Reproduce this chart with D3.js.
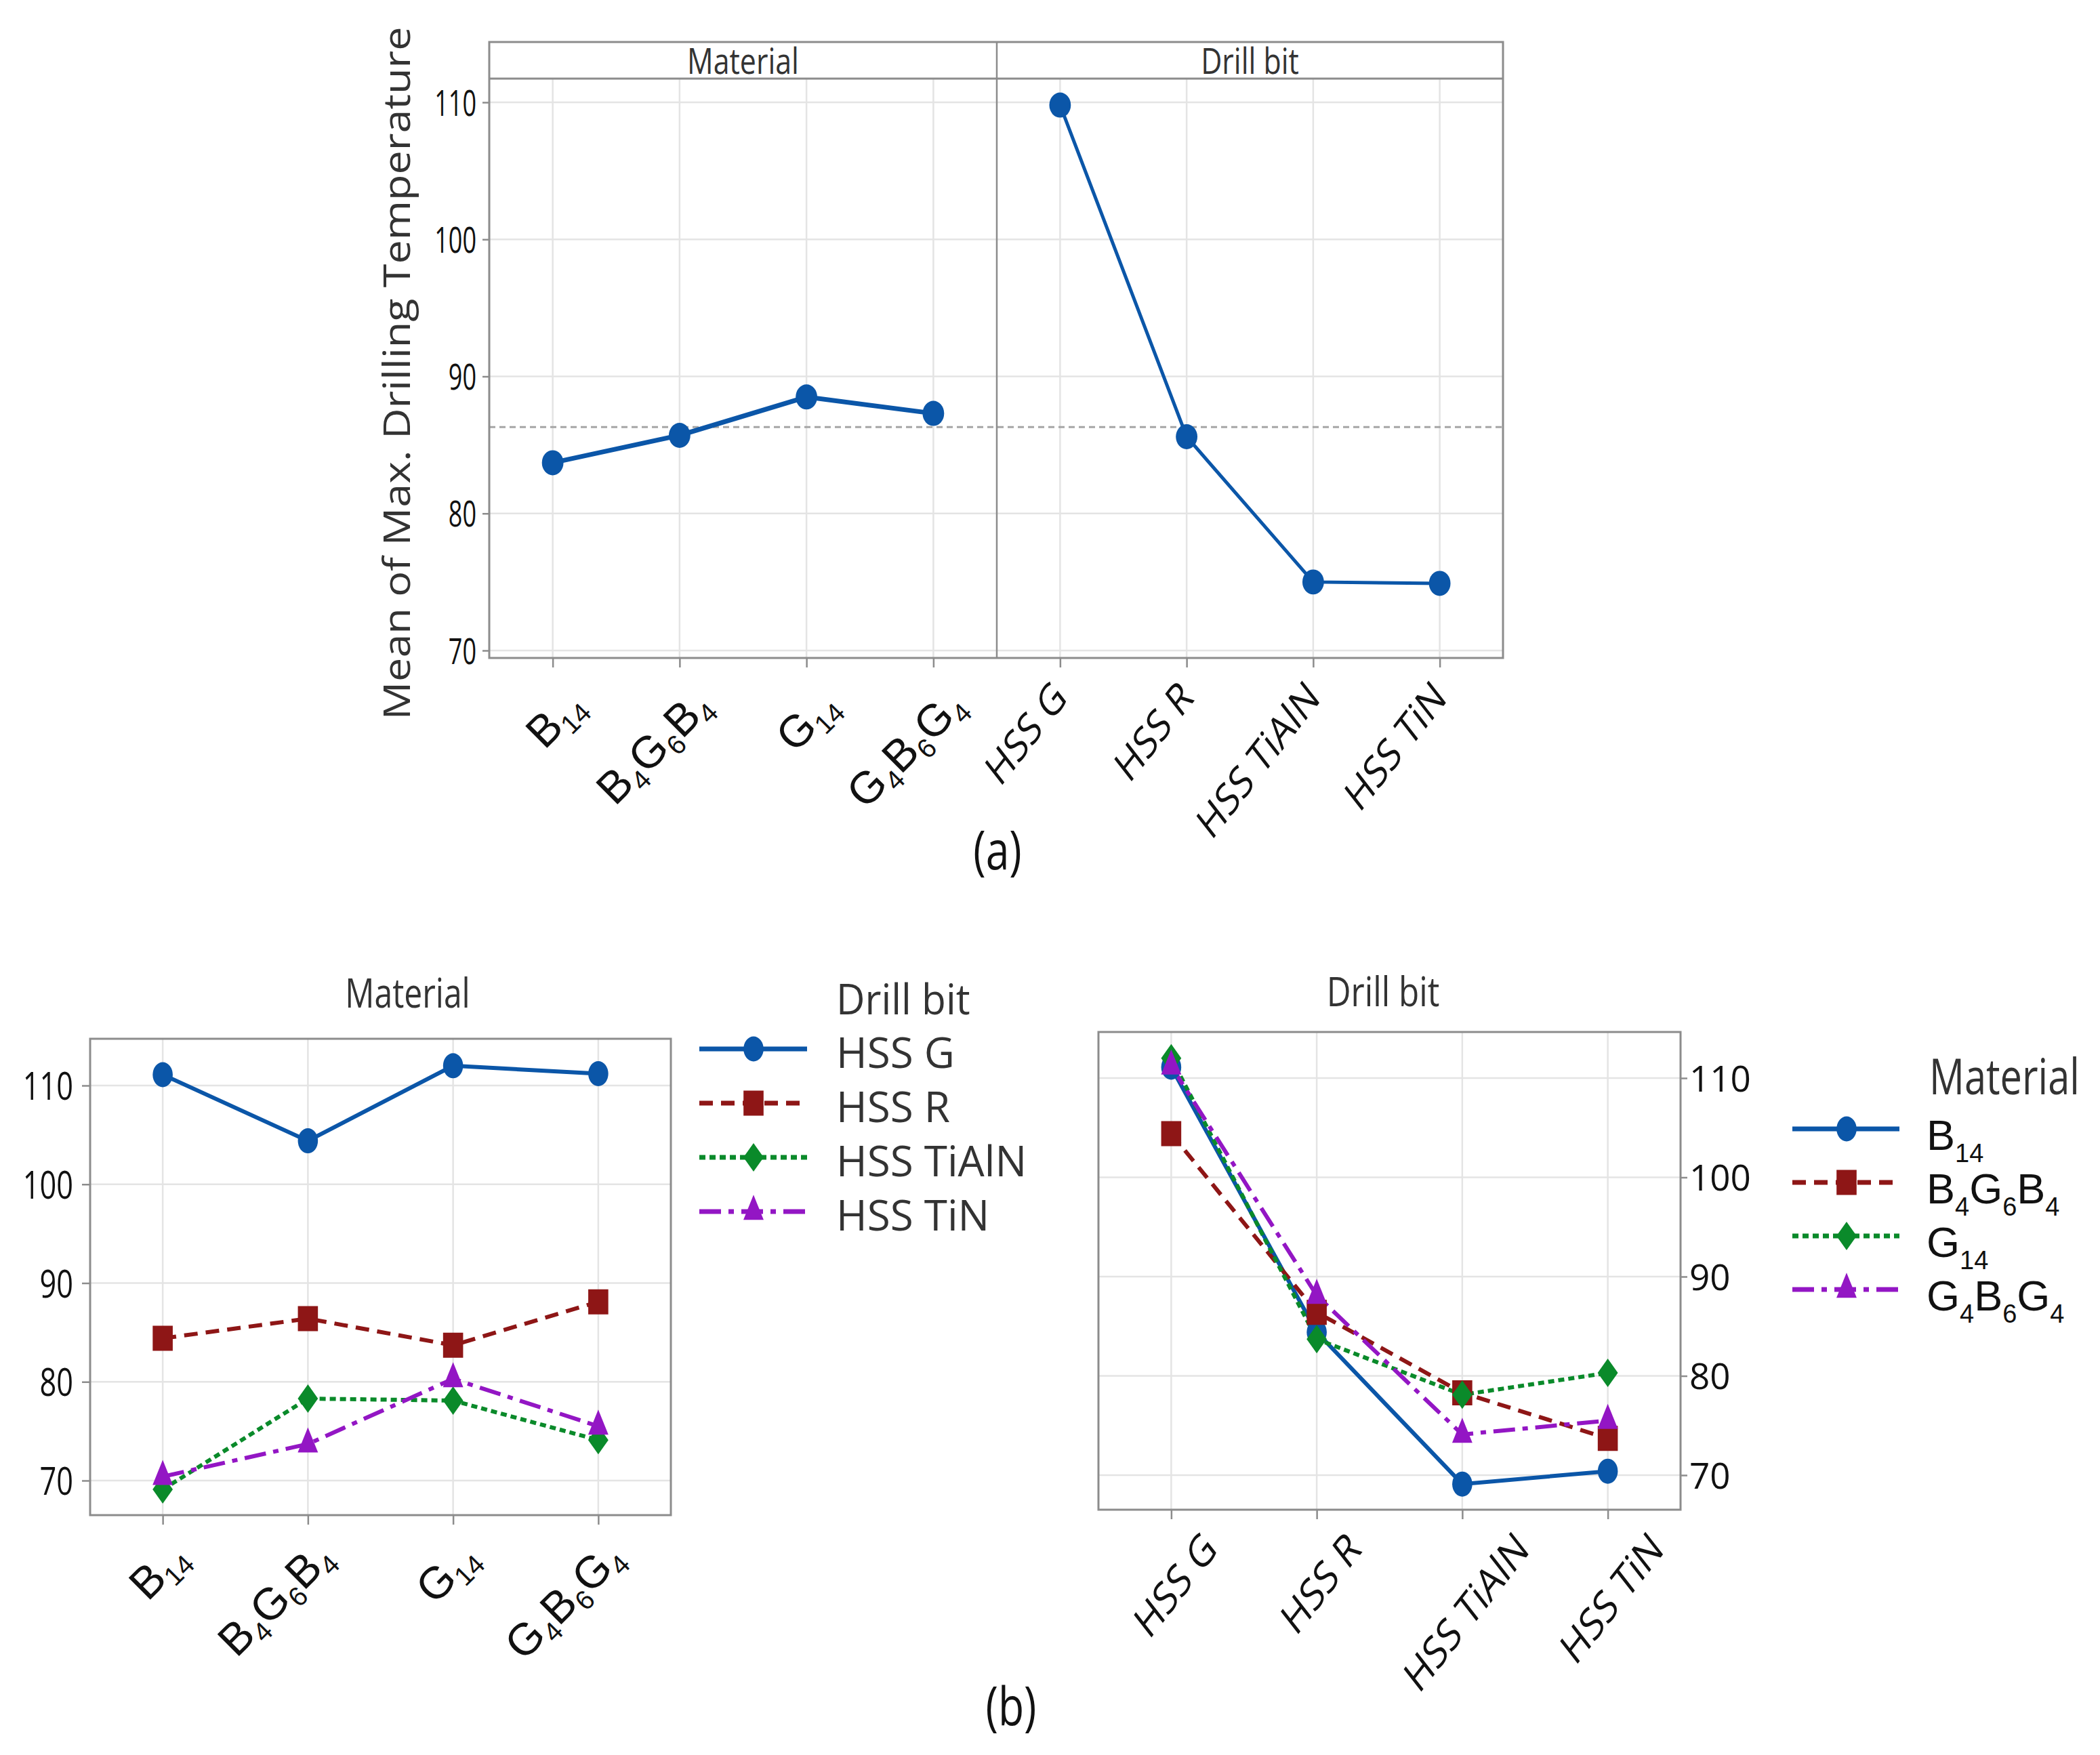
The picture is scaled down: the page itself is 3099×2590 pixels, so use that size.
<!DOCTYPE html>
<html>
<head>
<meta charset="utf-8">
<title>Drilling temperature</title>
<script src="https://cdn.jsdelivr.net/npm/d3@7"></script>
<style>
  body { margin: 0; background: #fff; }
  svg { display: block; }
</style>
</head>
<body>
<script>
// ---- data ----
const materials = ["B14", "B4G6B4", "G14", "G4B6G4"];
const drillBits = ["HSS G", "HSS R", "HSS TiAlN", "HSS TiN"];
const meanByMaterial = [83.7, 85.7, 88.5, 87.3];
const meanByDrill = [109.8, 85.6, 75.0, 74.9];
const grandMean = 86.3;
// interaction means, one array per drill bit, in material order
const hssG = [111.1, 104.4, 112.0, 111.2];
const hssR = [84.4, 86.4, 83.7, 88.1];
const hssTiAlN = [69.1, 78.3, 78.1, 74.1];
const hssTiN = [70.4, 73.7, 80.3, 75.5];
const yTicks = [70, 80, 90, 100, 110];

const byDrill = [hssG, hssR, hssTiAlN, hssTiN];
const byMaterial = materials.map((m, j) => byDrill.map(row => row[j]));

// ---- styles ----
const FONT = "'Open Sans', 'Noto Sans', sans-serif";
const ARIAL = "'Liberation Sans', Arial, sans-serif";
const colors = ["#0b56a8", "#8e1616", "#0a8a2a", "#9316c4"];
const dashes = [null, "20,12", "9,6", "32,11,8,11"];
const shapes = [d3.symbolCircle, d3.symbolSquare, d3.symbolDiamond2, d3.symbolTriangle];
const shapeSize = [1075, 1369, 1124, 790];
const shapeSx = [0.8, 0.8, 0.71, 0.7];
const FRAME = "#8c8c8c", GRID = "#e4e4e4";
const SHEAR = 0.78;   // rotated labels look squeezed sideways in the original

const svg = d3.select("body").append("svg").attr("width", 3099).attr("height", 2590);

function label(g, str, x, y, o) {
  const t = g.append("text")
    .attr("transform", `translate(${x},${y}) scale(${o.sx || 1},1)` + (o.rot ? ` rotate(${o.rot})` : ""))
    .attr("font-family", o.font || FONT)
    .attr("font-size", o.size)
    .attr("fill", o.fill || "#222")
    .attr("text-anchor", o.anchor || "start");
  if (o.weight) t.attr("font-weight", o.weight);
  if (str !== null) t.text(str);
  return t;
}

// letters normal, digits as subscripts
function materialText(t, name, subSize, subDy) {
  let low = false;
  name.match(/[A-Z]|\d+/g).forEach(p => {
    const ts = t.append("tspan").text(p);
    if (/\d/.test(p)) {
      ts.attr("font-size", subSize).attr("dy", low ? 0 : subDy);
      low = true;
    } else {
      ts.attr("dy", low ? -subDy : 0);
      low = false;
    }
  });
}

function marker(g, k, x, y, sx) {
  g.append("path")
    .attr("d", d3.symbol().type(shapes[k]).size(shapeSize[k])())
    .attr("transform", `translate(${x},${y}) scale(${sx || shapeSx[k]},1)`)
    .attr("fill", colors[k]);
}

function yAxis(g, y, side, tick, pad, size, sx) {
  const ax = (side === "left" ? d3.axisLeft(y) : d3.axisRight(y))
    .tickValues(yTicks).tickSize(tick).tickPadding(pad);
  g.call(ax);
  g.select(".domain").remove();
  g.selectAll(".tick line").attr("stroke", FRAME).attr("stroke-width", 2.5);
  const off = side === "left" ? -(tick + pad) : (tick + pad);
  g.selectAll(".tick text")
    .attr("font-family", FONT).attr("font-size", size).attr("fill", "#111")
    .attr("x", 0).attr("dy", "0.36em")
    .attr("transform", `translate(${off},0) scale(${sx},1)`);
}

function xTicks(g, x) {
  g.call(d3.axisBottom(x).tickSize(14).tickFormat(() => ""));
  g.select(".domain").remove();
  g.selectAll(".tick text").remove();
  g.selectAll(".tick line").attr("stroke", FRAME).attr("stroke-width", 2.5);
}

function grid(g, x, y, box) {
  g.selectAll(".gy").data(yTicks).join("line")
    .attr("x1", box.left).attr("x2", box.right)
    .attr("y1", d => y(d)).attr("y2", d => y(d))
    .attr("stroke", GRID).attr("stroke-width", 2.5);
  g.selectAll(".gx").data(x.domain()).join("line")
    .attr("x1", d => x(d)).attr("x2", d => x(d))
    .attr("y1", box.top).attr("y2", box.bottom)
    .attr("stroke", GRID).attr("stroke-width", 2.5);
}

// material tick labels (subscripted), end anchored near the tick
function materialTicks(g, dx, dy) {
  g.selectAll(".tick").each(function (d) {
    const t = label(d3.select(this), null, dx, dy, { size: 66, rot: -45, anchor: "end", font: ARIAL, fill: "#111" });
    materialText(t, d, 40, 13);
  });
}

// ================= (a) main effects =================
const A = { left: 722, mid: 1471, right: 2218, head: 62, top: 116, bottom: 971 };
const yA = d3.scaleLinear().domain([70, 110]).range([960, 151]);
const xMat = d3.scalePoint().domain(materials).range([A.left, A.mid]).padding(0.5);
const xDrill = d3.scalePoint().domain(drillBits).range([A.mid, A.right]).padding(0.5);

const gA = svg.append("g");
grid(gA.append("g"), xMat, yA, { left: A.left, right: A.mid, top: A.top, bottom: A.bottom });
grid(gA.append("g"), xDrill, yA, { left: A.mid, right: A.right, top: A.top, bottom: A.bottom });

gA.append("line")
  .attr("x1", A.left).attr("x2", A.right)
  .attr("y1", yA(grandMean)).attr("y2", yA(grandMean))
  .attr("stroke", "#a6a6a6").attr("stroke-width", 3).attr("stroke-dasharray", "9,6");

gA.append("rect")
  .attr("x", A.left).attr("y", A.head).attr("width", A.right - A.left).attr("height", A.bottom - A.head)
  .attr("fill", "none").attr("stroke", FRAME).attr("stroke-width", 3);
gA.append("line").attr("x1", A.left).attr("x2", A.right).attr("y1", A.top).attr("y2", A.top)
  .attr("stroke", FRAME).attr("stroke-width", 3);
gA.append("line").attr("x1", A.mid).attr("x2", A.mid).attr("y1", A.head).attr("y2", A.bottom)
  .attr("stroke", FRAME).attr("stroke-width", 2.5);

label(gA, "Material", (A.left + A.mid) / 2, 109, { size: 53, sx: 0.81, anchor: "middle", fill: "#333" });
label(gA, "Drill bit", (A.mid + A.right) / 2, 109, { size: 53, sx: 0.81, anchor: "middle", fill: "#333" });

const lineMat = d3.line().x((d, i) => xMat(materials[i])).y(d => yA(d));
const lineDrill = d3.line().x((d, i) => xDrill(drillBits[i])).y(d => yA(d));
gA.append("path").attr("d", lineMat(meanByMaterial)).attr("fill", "none")
  .attr("stroke", colors[0]).attr("stroke-width", 7);
gA.append("path").attr("d", lineDrill(meanByDrill)).attr("fill", "none")
  .attr("stroke", colors[0]).attr("stroke-width", 5);
meanByMaterial.forEach((v, i) => marker(gA, 0, xMat(materials[i]), yA(v), 0.86));
meanByDrill.forEach((v, i) => marker(gA, 0, xDrill(drillBits[i]), yA(v), 0.86));

yAxis(gA.append("g").attr("transform", `translate(${A.left},0)`), yA, "left", 10, 9, 53, 0.68);

const gxMat = gA.append("g").attr("transform", `translate(0,${A.bottom})`);
xTicks(gxMat, xMat);
materialTicks(gxMat, 50, 74);
const gxDrill = gA.append("g").attr("transform", `translate(0,${A.bottom})`);
xTicks(gxDrill, xDrill);
gxDrill.selectAll(".tick").each(function (d) {
  label(d3.select(this), d, 12, 62, { size: 65, sx: SHEAR, rot: -45, anchor: "end", fill: "#111" });
});

label(gA, "Mean of Max. Drilling Temperature", 605, 551, { size: 54, rot: -90, anchor: "middle", fill: "#333" })
  .attr("textLength", 1023).attr("lengthAdjust", "spacingAndGlyphs");
label(gA, "(a)", 1472, 1283, { size: 78, sx: 0.8, anchor: "middle", fill: "#111" });

// ================= (b) interaction, by material =================
const BL = { left: 133, right: 990, top: 1533, bottom: 2236 };
const yBL = d3.scaleLinear().domain([70, 110]).range([2185, 1602]);
const xBL = d3.scalePoint().domain(materials).range([BL.left, BL.right]).padding(0.5);
const gBL = svg.append("g");
grid(gBL.append("g"), xBL, yBL, BL);
gBL.append("rect").attr("x", BL.left).attr("y", BL.top)
  .attr("width", BL.right - BL.left).attr("height", BL.bottom - BL.top)
  .attr("fill", "none").attr("stroke", FRAME).attr("stroke-width", 3);

const lineBL = d3.line().x((d, i) => xBL(materials[i])).y(d => yBL(d));
byDrill.forEach((vals, k) => {
  gBL.append("path").attr("d", lineBL(vals)).attr("fill", "none")
    .attr("stroke", colors[k]).attr("stroke-width", 6)
    .attr("stroke-dasharray", dashes[k]);
});
byDrill.forEach((vals, k) => vals.forEach((v, i) => marker(gBL, k, xBL(materials[i]), yBL(v))));

yAxis(gBL.append("g").attr("transform", `translate(${BL.left},0)`), yBL, "left", 12, 13, 57, 0.76);
const gxBL = gBL.append("g").attr("transform", `translate(0,${BL.bottom})`);
xTicks(gxBL, xBL);
materialTicks(gxBL, 40, 66);
label(gBL, "Material", (BL.left + BL.right) / 2 + 40, 1487, { size: 60, sx: 0.8, anchor: "middle", fill: "#333" });

// legend: drill bit
const legL = { x1: 1032, x2: 1191, mx: 1112, tx: 1234, y0: 1548, step: 80 };
label(gBL, "Drill bit", legL.tx, 1497, { size: 63, sx: 0.93, fill: "#333" });
drillBits.forEach((d, k) => {
  const y = legL.y0 + k * legL.step;
  gBL.append("line").attr("x1", legL.x1).attr("x2", legL.x2).attr("y1", y).attr("y2", y)
    .attr("stroke", colors[k]).attr("stroke-width", 7).attr("stroke-dasharray", dashes[k]);
  marker(gBL, k, legL.mx, y);
  label(gBL, d, legL.tx, y + 28, { size: 62, fill: "#333" });
});

// ================= (b) interaction, by drill bit =================
const BR = { left: 1621, right: 2480, top: 1523, bottom: 2228 };
const yBR = d3.scaleLinear().domain([70, 110]).range([2177, 1591]);
const xBR = d3.scalePoint().domain(drillBits).range([BR.left, BR.right]).padding(0.5);
const gBR = svg.append("g");
grid(gBR.append("g"), xBR, yBR, BR);
gBR.append("rect").attr("x", BR.left).attr("y", BR.top)
  .attr("width", BR.right - BR.left).attr("height", BR.bottom - BR.top)
  .attr("fill", "none").attr("stroke", FRAME).attr("stroke-width", 3);

const lineBR = d3.line().x((d, i) => xBR(drillBits[i])).y(d => yBR(d));
byMaterial.forEach((vals, k) => {
  gBR.append("path").attr("d", lineBR(vals)).attr("fill", "none")
    .attr("stroke", colors[k]).attr("stroke-width", 6)
    .attr("stroke-dasharray", dashes[k]);
});
byMaterial.forEach((vals, k) => vals.forEach((v, i) => marker(gBR, k, xBR(drillBits[i]), yBR(v))));

yAxis(gBR.append("g").attr("transform", `translate(${BR.right},0)`), yBR, "right", 10, 3, 53, 1.0);
const gxBR = gBR.append("g").attr("transform", `translate(0,${BR.bottom})`);
xTicks(gxBR, xBR);
// these labels sit centred under their ticks, hanging from a common top line
gxBR.selectAll(".tick").each(function (d) {
  const h = 0.714 * 66;
  const t = label(d3.select(this), d, 0, 0, { size: 66, anchor: "middle", fill: "#111" });
  const L = t.node().getComputedTextLength();
  t.attr("transform", `translate(${0.3 * h + 4},${28 + 0.354 * L + 0.707 * h}) scale(${SHEAR},1) rotate(-45)`);
});
label(gBR, "Drill bit", 2041, 1485, { size: 61, sx: 0.81, anchor: "middle", fill: "#333" });

// legend: material
const legR = { x1: 2645, x2: 2803, mx: 2725, tx: 2843, y0: 1666, step: 79 };
label(gBR, "Material", legR.tx + 4, 1615, { size: 74, sx: 0.78, fill: "#333" });
materials.forEach((m, k) => {
  const y = legR.y0 + k * legR.step;
  gBR.append("line").attr("x1", legR.x1).attr("x2", legR.x2).attr("y1", y).attr("y2", y)
    .attr("stroke", colors[k]).attr("stroke-width", 7).attr("stroke-dasharray", dashes[k]);
  marker(gBR, k, legR.mx, y);
  const t = label(gBR, null, legR.tx, y + 31, { size: 63, font: ARIAL, fill: "#111" });
  materialText(t, m, 38, 18);
});

label(svg, "(b)", 1492, 2546, { size: 78, sx: 0.8, anchor: "middle", fill: "#111" });
</script>
</body>
</html>
